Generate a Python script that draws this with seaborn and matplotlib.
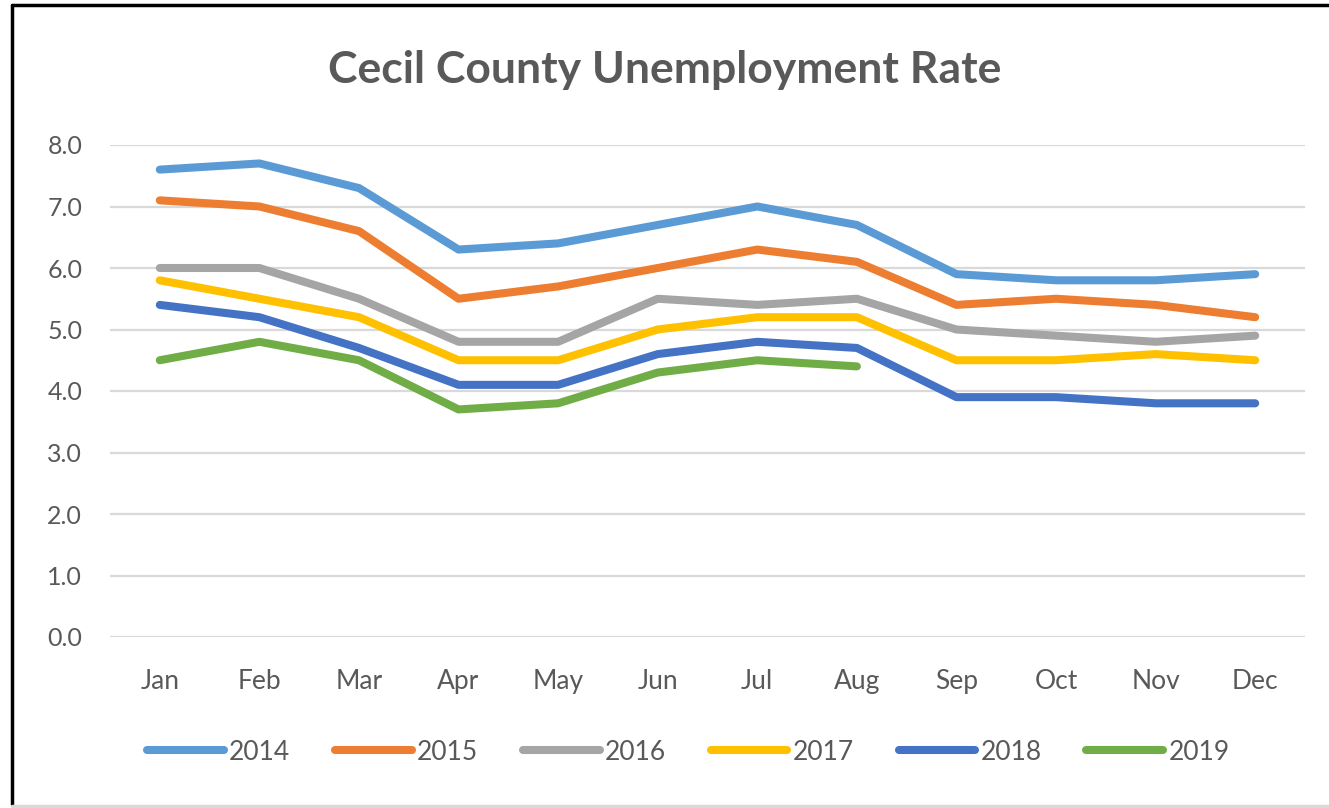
import matplotlib.pyplot as plt
import matplotlib.lines as mlines
import pandas as pd
import seaborn as sns

#%% data
months = ['Jan', 'Feb', 'Mar', 'Apr', 'May', 'Jun', 'Jul', 'Aug', 'Sep', 'Oct', 'Nov', 'Dec']
rate_2014 = [7.6, 7.7, 7.3, 6.3, 6.4, 6.7, 7.0, 6.7, 5.9, 5.8, 5.8, 5.9]
rate_2015 = [7.1, 7.0, 6.6, 5.5, 5.7, 6.0, 6.3, 6.1, 5.4, 5.5, 5.4, 5.2]
rate_2016 = [6.0, 6.0, 5.5, 4.8, 4.8, 5.5, 5.4, 5.5, 5.0, 4.9, 4.8, 4.9]
rate_2017 = [5.8, 5.5, 5.2, 4.5, 4.5, 5.0, 5.2, 5.2, 4.5, 4.5, 4.6, 4.5]
rate_2018 = [5.4, 5.2, 4.7, 4.1, 4.1, 4.6, 4.8, 4.7, 3.9, 3.9, 3.8, 3.8]
rate_2019 = [4.5, 4.8, 4.5, 3.7, 3.8, 4.3, 4.5, 4.4]

years = ['2014', '2015', '2016', '2017', '2018', '2019']
series = [rate_2014, rate_2015, rate_2016, rate_2017, rate_2018, rate_2019]
colors = ['#5B9BD5', '#ED7D31', '#A5A5A5', '#FFC000', '#4472C4', '#70AD47']

rows = []
for yr, vals in zip(years, series):
    for m, v in zip(months, vals):
        rows.append({'Month': m, 'Year': yr, 'Rate': v})
df = pd.DataFrame(rows)

#%% plot
sns.set_style('white')
plt.rcParams['font.family'] = ['Lato', 'DejaVu Sans']
txt = '#595959'

fig = plt.figure(figsize=(13.29, 8.08), dpi=100)
ax = fig.add_axes([110/1329, 1 - 637/808, 1195/1329, 492/808])

sns.lineplot(data=df, x='Month', y='Rate', hue='Year', hue_order=years,
             palette=colors, linewidth=5.8, sort=False, legend=False, ax=ax,
             solid_capstyle='round')

ax.set_xlim(-0.5, 11.5)
ax.set_ylim(0, 8)
ax.set_yticks(range(0, 9))
ax.set_yticklabels([f'{v:.1f}' for v in range(0, 9)])
ax.grid(axis='y', color='#D9D9D9', linewidth=1.6)
ax.set_axisbelow(True)
for s in ax.spines.values():
    s.set_visible(False)
ax.tick_params(axis='both', length=0, labelcolor=txt)
ax.tick_params(axis='x', pad=23, labelsize=19)
ax.tick_params(axis='y', pad=20, labelsize=18)
ax.set_xlabel('')
ax.set_ylabel('')

fig.text(0.5, 1 - 70/808, 'Cecil County Unemployment Rate', ha='center', va='center',
         fontsize=32, fontweight='bold', color=txt)

handles = [mlines.Line2D([], [], color=c, linewidth=5.8, solid_capstyle='round') for c in colors]
fig.legend(handles, years, loc='center', bbox_to_anchor=(0.518, 1 - 752/808), ncol=6,
           frameon=False, fontsize=19, labelcolor=txt, handlelength=2.9,
           handletextpad=0.2, columnspacing=1.7)

# frame around the chart
fig.add_artist(mlines.Line2D([12/1329, 12/1329], [0.005, 1 - 5/808], color='black', linewidth=2.5))
fig.add_artist(mlines.Line2D([12/1329, 1], [1 - 5/808, 1 - 5/808], color='black', linewidth=2.5))
fig.add_artist(mlines.Line2D([12/1329, 1], [2/808, 2/808], color='#D9D9D9', linewidth=2.5))

plt.savefig('out.png', dpi=100)
